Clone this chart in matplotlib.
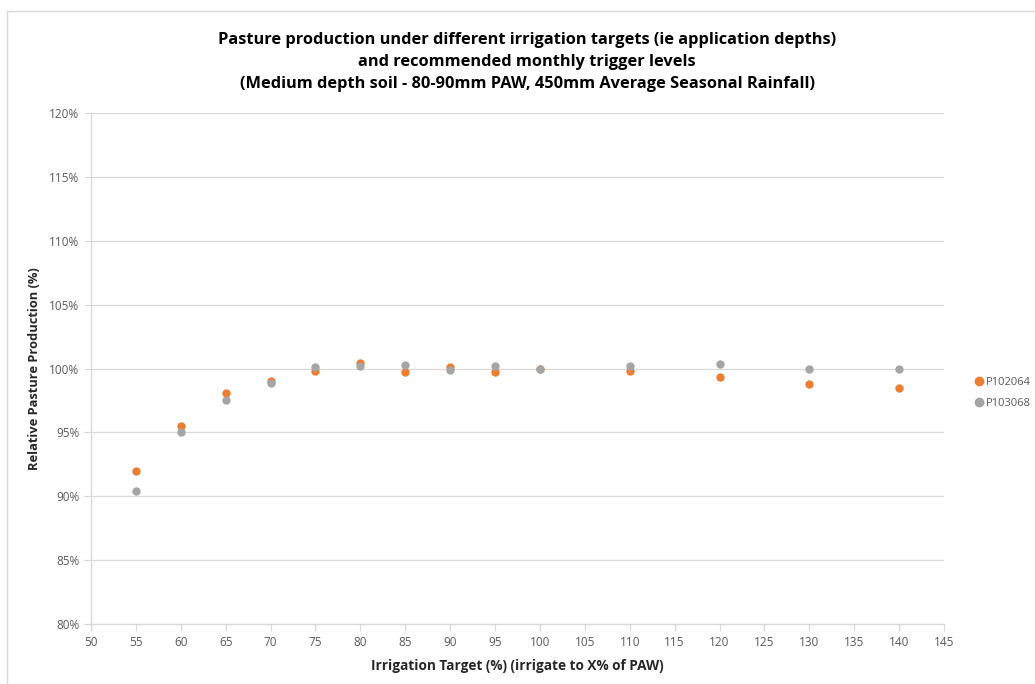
import matplotlib.pyplot as plt
from matplotlib.ticker import FuncFormatter
from matplotlib.lines import Line2D

# irrigation targets (% of PAW)
targets = [55, 60, 65, 70, 75, 80, 85, 90, 95, 100, 110, 120, 130, 140]
# relative pasture production (%)
p102064 = [92.0, 95.5, 98.1, 99.0, 99.8, 100.4, 99.7, 100.15, 99.7, 100.0, 99.8, 99.3, 98.8, 98.5]
p103068 = [90.4, 95.0, 97.5, 98.9, 100.1, 100.2, 100.3, 99.85, 100.2, 100.0, 100.2, 100.33, 99.95, 100.0]

series_names = ['P102064', 'P103068']
colors = ['#ED7D31', '#A5A5A5']

plt.rcParams['font.family'] = ['Open Sans', 'DejaVu Sans']
txt = '#595959'
grid_c = '#D9D9D9'

fig = plt.figure(figsize=(10.35, 6.84), dpi=100)
ax = fig.add_axes([91 / 1035, 1 - 624 / 684, (944 - 91) / 1035, (624 - 113) / 684])

ax.scatter(targets, p102064, s=36, color=colors[0], zorder=3, linewidths=0)
ax.scatter(targets, p103068, s=36, color=colors[1], zorder=3, linewidths=0)

ax.set_xlim(50, 145)
ax.set_ylim(80, 120)
ax.set_xticks(range(50, 146, 5))
ax.set_yticks(range(80, 121, 5))
ax.yaxis.set_major_formatter(FuncFormatter(lambda v, p: f'{v:.0f}%'))
ax.grid(axis='y', color=grid_c, linewidth=0.9)
ax.set_axisbelow(True)
for s in ['top', 'right']:
    ax.spines[s].set_visible(False)
for s in ['left', 'bottom']:
    ax.spines[s].set_color(grid_c)
    ax.spines[s].set_linewidth(0.9)
ax.tick_params(axis='both', colors=grid_c, length=5, width=0.9, labelcolor=txt, labelsize=8.5)
ax.tick_params(axis='x', pad=4)

ax.set_xlabel('Irrigation Target (%) (irrigate to X% of PAW)', fontsize=9.8,
              fontweight='bold', color='#262626', labelpad=7)
ax.set_ylabel('Relative Pasture Production (%)', fontsize=9.3,
              fontweight='bold', color='#262626')
ax.yaxis.set_label_coords(-50 / 853, 0.5)

fig.text(527 / 1035, 1 - 62 / 684,
         'Pasture production under different irrigation targets (ie application depths)\n'
         'and recommended monthly trigger levels\n'
         '(Medium depth soil - 80-90mm PAW, 450mm Average Seasonal Rainfall)',
         ha='center', va='center', fontsize=11.8, fontweight='bold',
         color='#000000', linespacing=1.5)

handles = [Line2D([], [], marker='o', linestyle='', color=c, markersize=6) for c in colors]
fig.legend(handles, series_names, loc='center left', bbox_to_anchor=(969 / 1035, 1 - 393 / 684),
           frameon=False, fontsize=8, labelcolor=txt, handletextpad=0.1,
           handlelength=1.0, labelspacing=0.9, borderaxespad=0)

# chart border (left and top edges visible)
fig.add_artist(Line2D([7 / 1035, 7 / 1035], [0, 1 - 11 / 684], color=grid_c, linewidth=1))
fig.add_artist(Line2D([7 / 1035, 1], [1 - 11 / 684, 1 - 11 / 684], color=grid_c, linewidth=1))

fig.savefig('out.png', dpi=100)
